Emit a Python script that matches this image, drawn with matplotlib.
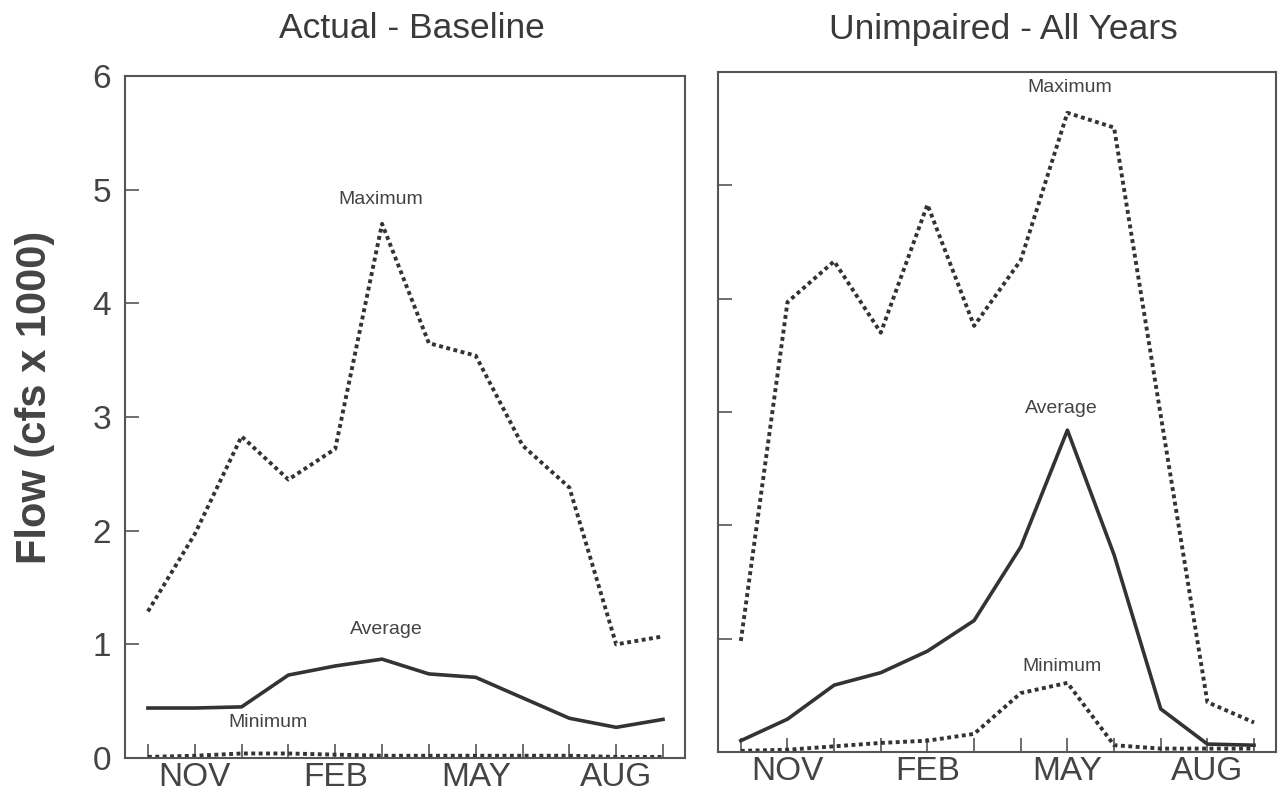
import numpy as np
import matplotlib
matplotlib.use('Agg')
import matplotlib.pyplot as plt

plt.rcParams['font.family'] = ['Liberation Sans', 'DejaVu Sans']

## water year, Oct -> Sep
months = ['OCT', 'NOV', 'DEC', 'JAN', 'FEB', 'MAR', 'APR', 'MAY', 'JUN', 'JUL', 'AUG', 'SEP']
shown_months = ['NOV', 'FEB', 'MAY', 'AUG']

## flow in cfs x 1000
base_max = [1.29, 1.97, 2.83, 2.45, 2.72, 4.70, 3.65, 3.54, 2.75, 2.38, 1.00, 1.07]
base_avg = [0.44, 0.44, 0.45, 0.73, 0.81, 0.87, 0.74, 0.71, 0.53, 0.35, 0.27, 0.34]
base_min = [0.01, 0.02, 0.04, 0.04, 0.03, 0.02, 0.02, 0.02, 0.02, 0.02, 0.01, 0.01]

unimp_max = [0.98, 3.97, 4.33, 3.70, 4.83, 3.76, 4.34, 5.64, 5.51, 2.97, 0.44, 0.26]
unimp_avg = [0.10, 0.29, 0.59, 0.70, 0.89, 1.16, 1.81, 2.84, 1.74, 0.38, 0.07, 0.06]
unimp_min = [0.01, 0.02, 0.05, 0.08, 0.10, 0.16, 0.52, 0.61, 0.06, 0.03, 0.03, 0.03]

x = np.arange(len(months))
tick_labels = [m if m in shown_months else '' for m in months]

line_col = '#333333'
text_col = '#444444'
spine_col = '#555555'
dotted = (0, (1, 0.9))

fig = plt.figure(figsize=(12.78, 7.94), dpi=100)
ax_left = fig.add_axes([0.0978, 0.0453, 0.4382, 0.8589])
ax_right = fig.add_axes([0.5618, 0.0529, 0.4366, 0.8564])


def format_axes(ax, show_ylabels):
    ax.set_xlim(-0.49, 11.47)
    ax.set_ylim(0, 6)
    ax.set_xticks(x)
    ax.set_xticklabels(tick_labels)
    ax.set_yticks([0, 1, 2, 3, 4, 5, 6])
    ax.tick_params(axis='x', direction='in', length=10, width=1.2, color=spine_col,
                   labelsize=24, labelcolor=text_col, pad=3)
    ax.tick_params(axis='y', direction='in', length=10, width=1.2, color=spine_col,
                   labelsize=24, labelcolor=text_col, pad=10, labelleft=show_ylabels)
    for s in ax.spines.values():
        s.set_color(spine_col)
        s.set_linewidth(1.5)


# left panel: actual baseline
ax_left.plot(x, base_max, color=line_col, lw=2.8, linestyle=dotted)
ax_left.plot(x, base_avg, color=line_col, lw=2.6)
ax_left.plot(x, base_min, color=line_col, lw=2.8, linestyle=dotted)
ax_left.text(4.98, 4.91, 'Maximum', fontsize=14, color=text_col, ha='center', va='center')
ax_left.text(5.09, 1.13, 'Average', fontsize=14, color=text_col, ha='center', va='center')
ax_left.text(2.56, 0.31, 'Minimum', fontsize=14, color=text_col, ha='center', va='center')
format_axes(ax_left, True)

# right panel: unimpaired
ax_right.plot(x, unimp_max, color=line_col, lw=2.8, linestyle=dotted)
ax_right.plot(x, unimp_avg, color=line_col, lw=2.6)
ax_right.plot(x, unimp_min, color=line_col, lw=2.8, linestyle=dotted)
ax_right.text(7.04, 5.86, 'Maximum', fontsize=14, color=text_col, ha='center', va='center')
ax_right.text(6.87, 3.03, 'Average', fontsize=14, color=text_col, ha='center', va='center')
ax_right.text(6.88, 0.75, 'Minimum', fontsize=14, color=text_col, ha='center', va='center')
format_axes(ax_right, False)

fig.text(412 / 1278, 1 - 38 / 794, 'Actual - Baseline', fontsize=25.5, color='#3a3a3a',
         ha='center', va='baseline')
fig.text(1003 / 1278, 1 - 39 / 794, 'Unimpaired - All Years', fontsize=25.5, color='#3a3a3a',
         ha='center', va='baseline')
fig.text(35 / 1278, 1 - 397 / 794, 'Flow (cfs x 1000)', fontsize=30, fontweight='bold',
         color=text_col, rotation=90, ha='center', va='center')

plt.savefig('out.png', dpi=100)
plt.close()
